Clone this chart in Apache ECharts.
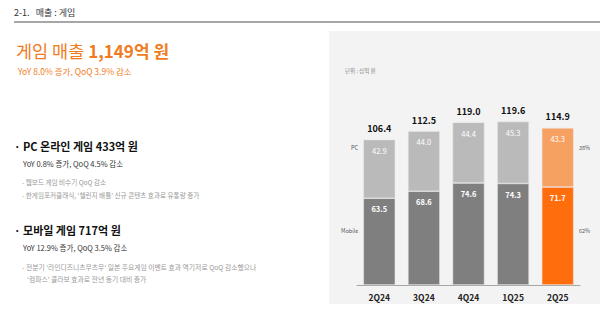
<!DOCTYPE html>
<html><head><meta charset="utf-8">
<script src="https://cdn.jsdelivr.net/npm/echarts@6/dist/echarts.min.js"></script>
<style>html,body{margin:0;padding:0;background:#fff}#c{width:600px;height:311px}</style>
</head><body><div id="c"></div>
<script>
const categories = ['2Q24','3Q24','4Q24','1Q25','2Q25'];
const pcValues = [42.9, 44.0, 44.4, 45.3, 43.3];
const mobileValues = [63.5, 68.6, 74.6, 74.3, 71.7];
const totals = [106.4, 112.5, 119.0, 119.6, 114.9];
const shareLabels = ['38%', '62%'];
const segmentNames = ['PC', 'Mobile'];

const F = '"Noto Sans CJK KR", "Noto Sans", sans-serif';
const last = categories.length - 1;
function colored(vals, base, hi){
  return vals.map((v,i)=>({value:v, itemStyle:{color: i===last?hi:base}}));
}
const chart = echarts.init(document.getElementById('c'), null, {renderer:'svg'});
chart.setOption({
  animation:false,
  textStyle:{fontFamily:F},
  graphic:[
    {type:'rect', z:-10, shape:{x:329,y:31,width:271,height:273}, style:{fill:'#f3f3f3'}},
    {type:'text', left:14, top:8, style:{text:'2-1.   매출 : 게임', font:'9px '+F, fill:'#333'}},
    {type:'line', shape:{x1:14,y1:22,x2:600,y2:22}, style:{stroke:'#8a8a8a', lineWidth:1.5}},
    {type:'text', left:16, top:42, style:{rich:{a:{font:'17.5px '+F, fill:'#f07c22'}, b:{font:'bold 17px '+F, fill:'#f07c22'}}, text:'{a|게임 매출 }{b|1,149억 원}'}},
    {type:'text', left:18, top:67, style:{text:'YoY 8.0% 증가, QoQ 3.9% 감소', font:'8.5px '+F, fill:'#f07c22'}},
    {type:'text', left:345, top:68, style:{text:'단위 : 십억 원', font:'5.5px '+F, fill:'#888'}},
    {type:'text', left:14, top:140, style:{text:'· PC 온라인 게임 433억 원', font:'bold 11px '+F, fill:'#111'}},
    {type:'text', left:23, top:160, style:{text:'YoY 0.8% 증가, QoQ 4.5% 감소', font:'7.5px '+F, fill:'#333'}},
    {type:'text', left:22, top:179, style:{text:'- 웹보드 게임 비수기 QoQ 감소', font:'6.6px '+F, fill:'#999'}},
    {type:'text', left:22, top:192, style:{text:'- 한게임포커클래식, \u2018챌린지 배틀\u2019 신규 콘텐츠 효과로 유통량 증가', font:'6.6px '+F, fill:'#999'}},
    {type:'text', left:14, top:224, style:{text:'· 모바일 게임 717억 원', font:'bold 11px '+F, fill:'#111'}},
    {type:'text', left:23, top:244, style:{text:'YoY 12.9% 증가, QoQ 3.5% 감소', font:'7.5px '+F, fill:'#333'}},
    {type:'text', left:22, top:264, style:{text:'- 전분기 \u2018라인디즈니츠무츠무\u2019 일본 주요게임 이벤트 효과 역기저로 QoQ 감소했으나', font:'6.8px '+F, fill:'#999'}},
    {type:'text', left:27, top:276, style:{text:'\u2018컴파스\u2019 콜라보 효과로 전년 동기 대비 증가', font:'6.8px '+F, fill:'#999'}},
    {type:'text', left:351, top:145, style:{text:segmentNames[0], font:'5.5px '+F, fill:'#555'}},
    {type:'text', left:341, top:228, style:{text:segmentNames[1], font:'5.5px '+F, fill:'#555'}},
    {type:'text', left:579, top:145, style:{text:shareLabels[0], font:'5.5px '+F, fill:'#555'}},
    {type:'text', left:579, top:228, style:{text:shareLabels[1], font:'5.5px '+F, fill:'#555'}}
  ],
  grid:{left:357, right:20, top:80, bottom:26, containLabel:false},
  xAxis:{type:'category', data:categories,
    axisLine:{lineStyle:{color:'#a6a6a6', width:1}}, axisTick:{show:false},
    axisLabel:{fontWeight:'bold', fontSize:8.5, color:'#222', margin:8, fontFamily:F}},
  yAxis:{type:'value', min:0, max:150, show:false, splitLine:{show:false}},
  series:[
    {name:segmentNames[1], type:'bar', stack:'s', barWidth:32, data:colored(mobileValues,'#7f7f7f','#ff6d0c'),
      itemStyle:{borderColor:'#e9e9e9', borderWidth:0.6},
      label:{show:true, position:'insideTop', distance:7, color:'#fff', fontSize:7.5, fontWeight:'bold', fontFamily:F, formatter:p=>p.value.toFixed(1)}},
    {name:segmentNames[0], type:'bar', stack:'s', barWidth:32, data:colored(pcValues,'#bababa','#f6a162'),
      itemStyle:{borderColor:'#e9e9e9', borderWidth:0.6},
      label:{show:true, position:'insideTop', distance:7, color:'#fff', fontSize:7.5, fontFamily:F, formatter:p=>p.value.toFixed(1)}},
    {name:'total', type:'line', data:totals, symbol:'circle', symbolSize:1, itemStyle:{opacity:0}, lineStyle:{opacity:0}, silent:true, z:10,
      label:{show:true, opacity:1, position:'top', distance:6, color:'#111', fontSize:9, fontWeight:'bold', fontFamily:F, formatter:p=>p.value.toFixed(1)}}
  ]
});
</script></body></html>
